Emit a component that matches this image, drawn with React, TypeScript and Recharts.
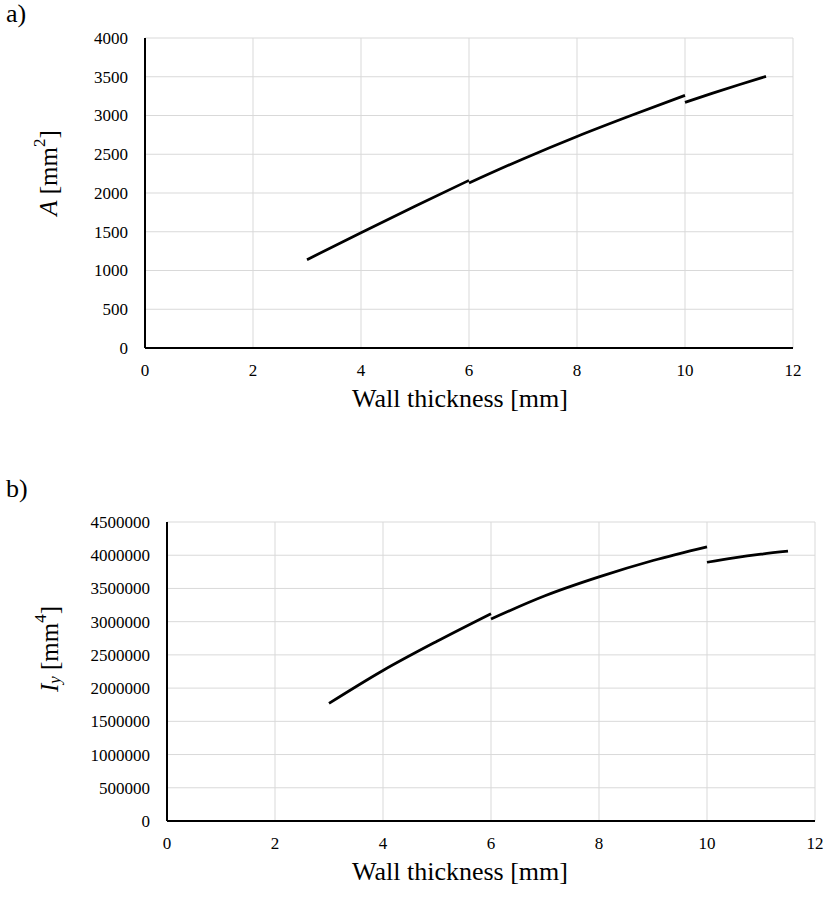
import React from 'react';
import { LineChart, Line, XAxis, YAxis, CartesianGrid, Label } from 'recharts';

// Wall thickness breakpoints [mm] for each section range
const thicknessRange1 = [3, 4, 5, 6];
const thicknessRange2 = [6, 7, 8, 9, 10];
const thicknessRange3 = [10, 10.5, 11, 11.5];

// Cross-sectional area A [mm^2]
const areaRange1 = [1140, 1488, 1830, 2163];
const areaRange2 = [2129, 2440, 2730, 3000, 3260];
const areaRange3 = [3169, 3286, 3397, 3505];

// Second moment of area Iy [mm^4]
const inertiaRange1 = [1770000, 2265000, 2705000, 3120000];
const inertiaRange2 = [3040000, 3390000, 3674000, 3920000, 4126000];
const inertiaRange3 = [3894000, 3960000, 4015000, 4060000];

const xTicks = [0, 2, 4, 6, 8, 10, 12];
const areaTicks = [0, 500, 1000, 1500, 2000, 2500, 3000, 3500, 4000];
const inertiaTicks = [0, 500000, 1000000, 1500000, 2000000, 2500000, 3000000, 3500000, 4000000, 4500000];

const toRows = (xs: number[], ys: number[]) => xs.map((t, i) => ({ t, v: ys[i] }));

const FONT = '"Liberation Serif", "Times New Roman", serif';
const GRID = '#d9d9d9';
const TICK_SIZE = 17;

const XTick = (props: any) => (
  <text
    x={props.x}
    y={props.y}
    dy="0.71em"
    textAnchor="middle"
    fontFamily={FONT}
    fontSize={TICK_SIZE}
    fill="#000"
  >
    {props.payload.value}
  </text>
);

const YTick = (props: any) => (
  <text
    x={props.x}
    y={props.y}
    dy="0.35em"
    textAnchor="end"
    fontFamily={FONT}
    fontSize={TICK_SIZE}
    fill="#000"
  >
    {props.payload.value}
  </text>
);

const xTitle = (y: number) => () => (
  <text x={460} y={y} textAnchor="middle" fontFamily={FONT} fontSize={26} fill="#000">
    Wall thickness [mm]
  </text>
);

const areaTitle = () => (
  <text
    x={48}
    y={173}
    transform="rotate(-90, 48, 173)"
    textAnchor="middle"
    dominantBaseline="central"
    fontFamily={FONT}
    fontSize={25}
    fill="#000"
  >
    <tspan fontStyle="italic">A</tspan>
    <tspan> [mm</tspan>
    <tspan fontSize={17} dy={-9}>2</tspan>
    <tspan dy={9}>]</tspan>
  </text>
);

const inertiaTitle = () => (
  <text
    x={49}
    y={189}
    transform="rotate(-90, 49, 189)"
    textAnchor="middle"
    dominantBaseline="central"
    fontFamily={FONT}
    fontSize={25}
    fill="#000"
  >
    <tspan fontStyle="italic">I</tspan>
    <tspan fontStyle="italic" fontSize={17} dy={5}>y</tspan>
    <tspan dy={-5}> [mm</tspan>
    <tspan fontSize={17} dy={-9}>4</tspan>
    <tspan dy={9}>]</tspan>
  </text>
);

interface PanelProps {
  top: number;
  height: number;
  marginTop: number;
  marginRight: number;
  yAxisWidth: number;
  xAxisHeight: number;
  yMax: number;
  yTicks: number[];
  ranges: { t: number; v: number }[][];
  xTitleY: number;
  yTitle: () => React.ReactElement;
  tag: string;
  tagBaseline: number;
}

function Panel(p: PanelProps) {
  return (
    <div style={{ position: 'absolute', left: 0, top: p.top, width: 829, height: p.height }}>
      <svg
        width={60}
        height={p.tagBaseline + 10}
        style={{ position: 'absolute', left: 0, top: 0, overflow: 'visible' }}
      >
        <text x={6} y={p.tagBaseline} fontFamily={FONT} fontSize={26} fill="#000">
          {p.tag}
        </text>
      </svg>
      <LineChart
        width={829}
        height={p.height}
        margin={{ top: p.marginTop, right: p.marginRight, left: 0, bottom: 0 }}
      >
        <CartesianGrid stroke={GRID} strokeWidth={1} />
        <XAxis
          type="number"
          dataKey="t"
          domain={[0, 12]}
          ticks={xTicks}
          allowDataOverflow
          height={p.xAxisHeight}
          axisLine={{ stroke: '#000', strokeWidth: 2 }}
          tickLine={false}
          tickSize={0}
          tickMargin={16}
          tick={XTick}
          interval={0}
        >
          <Label content={xTitle(p.xTitleY)} />
        </XAxis>
        <YAxis
          type="number"
          domain={[0, p.yMax]}
          ticks={p.yTicks}
          width={p.yAxisWidth}
          axisLine={{ stroke: '#000', strokeWidth: 2 }}
          tickLine={false}
          tickSize={0}
          tickMargin={17}
          tick={YTick}
          interval={0}
        >
          <Label content={p.yTitle} />
        </YAxis>
        {p.ranges.map((rows, i) => (
          <Line
            key={i}
            data={rows}
            dataKey="v"
            type="monotone"
            stroke="#000"
            strokeWidth={2.75}
            dot={false}
            activeDot={false}
            isAnimationActive={false}
          />
        ))}
      </LineChart>
    </div>
  );
}

export default function App() {
  return (
    <div style={{ position: 'absolute', left: 0, top: 0, width: 829, height: 903, background: '#fff' }}>
      <Panel
        top={0}
        height={440}
        marginTop={38}
        marginRight={36}
        yAxisWidth={145}
        xAxisHeight={92}
        yMax={4000}
        yTicks={areaTicks}
        ranges={[
          toRows(thicknessRange1, areaRange1),
          toRows(thicknessRange2, areaRange2),
          toRows(thicknessRange3, areaRange3),
        ]}
        xTitleY={407}
        yTitle={areaTitle}
        tag="a)"
        tagBaseline={22}
      />
      <Panel
        top={460}
        height={443}
        marginTop={62}
        marginRight={14}
        yAxisWidth={167}
        xAxisHeight={82}
        yMax={4500000}
        yTicks={inertiaTicks}
        ranges={[
          toRows(thicknessRange1, inertiaRange1),
          toRows(thicknessRange2, inertiaRange2),
          toRows(thicknessRange3, inertiaRange3),
        ]}
        xTitleY={420}
        yTitle={inertiaTitle}
        tag="b)"
        tagBaseline={37}
      />
    </div>
  );
}
